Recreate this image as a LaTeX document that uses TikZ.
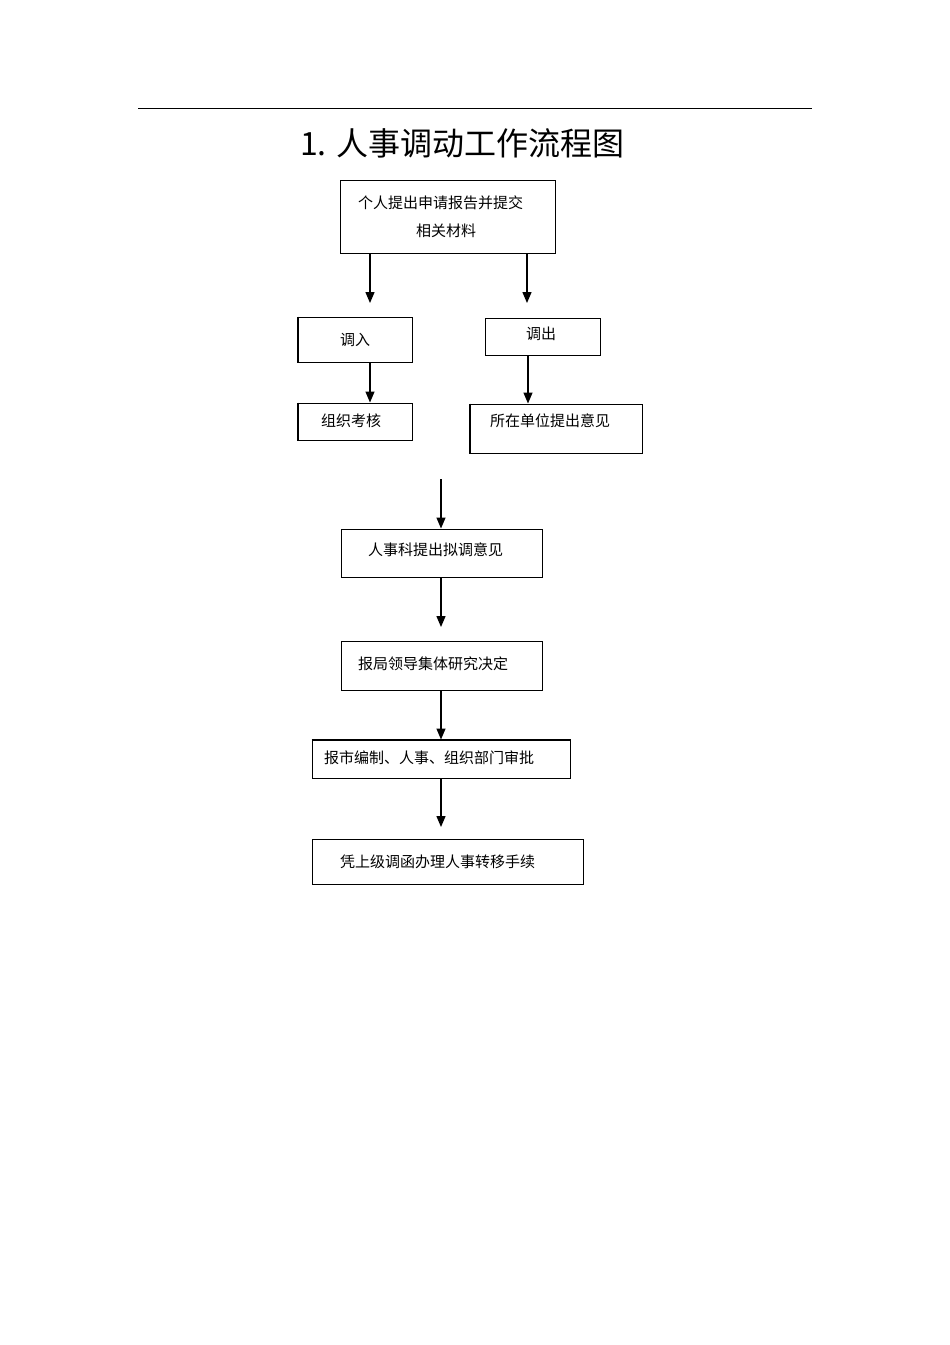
\documentclass[tikz,border=0pt]{standalone}
\usepackage{fontspec}
\setmainfont{Noto Sans CJK SC}
\usepackage{tikz}
\usetikzlibrary{arrows.meta,positioning}

\begin{document}
\begin{tikzpicture}[x=1pt, y=-1pt,
	box/.style={draw, line width=1pt, inner sep=0pt},
	txt/.style={anchor=west, inner sep=0pt, font=\fontsize{15pt}{18pt}\selectfont},
	arr/.style={line width=1.4pt, -{Triangle[width=9pt,length=11pt]}}]
	\useasboundingbox (0,0) rectangle (950,1345);
	\draw[line width=1pt] (138,108) -- (812,108);
	\node[anchor=west, inner sep=0pt, font=\fontsize{32pt}{36pt}\selectfont] (title) at (300,143) {1. 人事调动工作流程图};
	% boxes
	\node[box, minimum width=215pt, minimum height=73pt] (apply) at (447.5,216.5) {};
	\node[box, minimum width=114pt, minimum height=45pt] (in) at (355,339.5) {};
	\node[box, minimum width=115pt, minimum height=37pt] (out) at (542.5,336.5) {};
	\node[box, minimum width=114pt, minimum height=37pt] (check) at (355,421.5) {};
	\node[box, minimum width=172pt, minimum height=49pt] (unit) at (556,428.5) {};
	\node[box, minimum width=201pt, minimum height=48pt] (propose) at (441.5,553) {};
	\node[box, minimum width=201pt, minimum height=49pt] (leader) at (441.5,665.5) {};
	\node[box, minimum width=258pt, minimum height=38pt] (city) at (441,759) {};
	\node[box, minimum width=271pt, minimum height=45pt] (transfer) at (447.5,861.5) {};
	% thick left edges
	\draw[line width=2pt] (in.north west) -- (in.south west);
	\draw[line width=2pt] (check.north west) -- (check.south west);
	\draw[line width=2pt] (unit.north west) -- (unit.south west);
	\draw[line width=2pt] (city.north west) -- (city.north east);
	% texts
	\node[txt] (t1) at (358,203) {个人提出申请报告并提交};
	\node[txt] (t2) at (416,231) {相关材料};
	\node[txt] (t3) at (340,340) {调入};
	\node[txt] (t4) at (526,334) {调出};
	\node[txt] (t5) at (321,421) {组织考核};
	\node[txt] (t6) at (490,421) {所在单位提出意见};
	\node[txt] (t7) at (368,550) {人事科提出拟调意见};
	\node[txt] (t8) at (358,664) {报局领导集体研究决定};
	\node[txt] (t9) at (324,758) {报市编制、人事、组织部门审批};
	\node[txt] (t10) at (340,862) {凭上级调函办理人事转移手续};
	% arrows
	\coordinate (start) at (441,479);
	\draw[arr] (apply.south -| 370,0) -- (370,303);
	\draw[arr] (apply.south -| 527,0) -- (527,303);
	\draw[arr] (in.south -| 370,0) -- (check.north -| 370,0);
	\draw[arr] (out.south -| 528,0) -- (unit.north -| 528,0);
	\draw[arr] (start) -- (propose.north -| start);
	\draw[arr] (propose.south -| start) -- (441,627);
	\draw[arr] (leader.south -| start) -- (city.north -| start);
	\draw[arr] (city.south -| start) -- (441,827);
\end{tikzpicture}
\end{document}
